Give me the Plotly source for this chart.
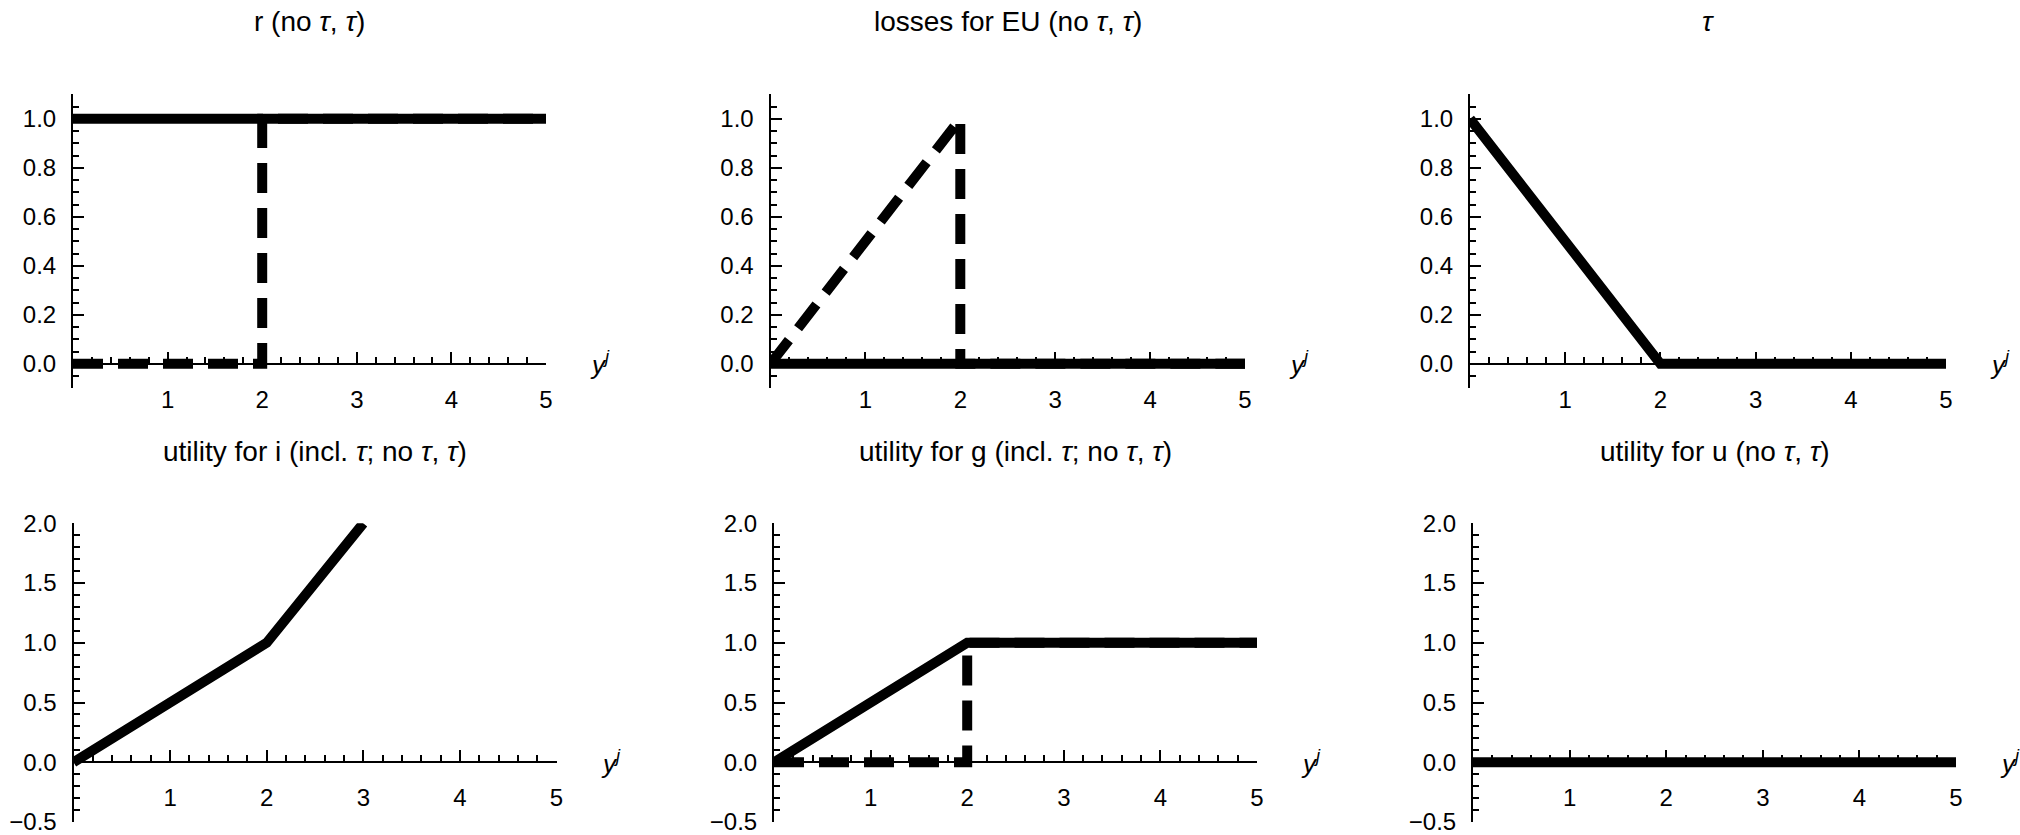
import plotly.graph_objects as go

# ---------------- data ----------------
titles = [
    "r (no <i>τ</i>, <i>τ</i>)",
    "losses for EU (no <i>τ</i>, <i>τ</i>)",
    "<i>τ</i>",
    "utility for i (incl. <i>τ</i>; no <i>τ</i>, <i>τ</i>)",
    "utility for g (incl. <i>τ</i>; no <i>τ</i>, <i>τ</i>)",
    "utility for u (no <i>τ</i>, <i>τ</i>)",
]

# panel 1: r
r_solid_x = [0, 5]
r_solid_y = [1, 1]
r_dash_x = [0, 2, 2, 5]
r_dash_y = [0, 0, 1, 1]

# panel 2: losses for EU
loss_solid_x = [0, 5]
loss_solid_y = [0, 0]
loss_dash_x = [0, 2, 2, 5]
loss_dash_y = [0, 1, 0, 0]

# panel 3: tau
tau_x = [0, 2, 5]
tau_y = [1, 0, 0]

# panel 4: utility for i
ui_x = [0, 2, 3]
ui_y = [0, 1, 2]

# panel 5: utility for g
ug_solid_x = [0, 2, 5]
ug_solid_y = [0, 1, 1]
ug_dash_x = [0, 2, 2, 5]
ug_dash_y = [0, 0, 1, 1]

# panel 6: utility for u
uu_x = [0, 5]
uu_y = [0, 0]

x_tickvals = [1, 2, 3, 4, 5]
top_y_tickvals = [0.0, 0.2, 0.4, 0.6, 0.8, 1.0]
bot_y_tickvals = [-0.5, 0.0, 0.5, 1.0, 1.5, 2.0]

# ---------------- layout geometry ----------------
W, H = 2020, 835
x_doms_top = [(73, 546), (770.5, 1245), (1470, 1946)]
x_doms_bot = [(73.5, 556.5), (774, 1257), (1473, 1956)]
y_dom_top = (94.3, 388.3)
y_dom_bot = (523.3, 822.0)
top_range = [-0.1, 1.10001]
bot_range = [-0.50001, 2.0]

FONT = "Liberation Sans, Arial, sans-serif"
LW = 10
DASH = "30px,15px"

fig = go.Figure()

panels = [
    [(r_solid_x, r_solid_y, "solid"), (r_dash_x, r_dash_y, DASH)],
    [(loss_solid_x, loss_solid_y, "solid"), (loss_dash_x, loss_dash_y, DASH)],
    [(tau_x, tau_y, "solid")],
    [(ui_x, ui_y, "solid")],
    [(ug_solid_x, ug_solid_y, "solid"), (ug_dash_x, ug_dash_y, DASH)],
    [(uu_x, uu_y, "solid")],
]

annotations = []
for i in range(6):
    row = i // 3
    col = i % 3
    xd = (x_doms_top if row == 0 else x_doms_bot)[col]
    yd = y_dom_top if row == 0 else y_dom_bot
    yr = top_range if row == 0 else bot_range
    xdom = [xd[0] / W, xd[1] / W]
    ydom = [1 - yd[1] / H, 1 - yd[0] / H]
    zero_pos = ydom[0] + (0 - yr[0]) / (yr[1] - yr[0]) * (ydom[1] - ydom[0])
    sfx = "" if i == 0 else str(i + 1)
    xname, yname = "x" + sfx, "y" + sfx

    for xs, ys, dash in panels[i]:
        fig.add_trace(go.Scatter(
            x=xs, y=ys, mode="lines",
            line=dict(color="black", width=LW, dash=dash),
            xaxis=xname, yaxis=yname, showlegend=False, hoverinfo="skip",
        ))

    fig.layout["xaxis" + sfx] = dict(
        domain=xdom, range=[0, 5], anchor="free", position=zero_pos,
        automargin=False,
        showgrid=False, zeroline=False, showline=True, linecolor="black", linewidth=2,
        tickmode="array", tickvals=x_tickvals, ticktext=[str(v) for v in x_tickvals],
        ticks="inside", ticklen=11, tickwidth=2, tickcolor="black",
        minor=dict(dtick=0.2, tick0=0, ticks="inside", ticklen=6, tickwidth=2, tickcolor="black", showgrid=False),
        tickfont=dict(family=FONT, size=24, color="black"),
        ticklabelstandoff=14, ticklabeloverflow="allow",
        fixedrange=True,
    )
    if row == 0:
        ymaj = top_y_tickvals
        ymin_dt = 0.05
    else:
        ymaj = bot_y_tickvals
        ymin_dt = 0.1
    fig.layout["yaxis" + sfx] = dict(
        domain=ydom, range=yr, anchor=xname,
        automargin=False,
        showgrid=False, zeroline=False, showline=True, linecolor="black", linewidth=2,
        tickmode="array", tickvals=ymaj, ticktext=[f"{v:.1f}".replace("-", "\u2212") for v in ymaj],
        ticks="inside", ticklen=11, tickwidth=2, tickcolor="black",
        minor=dict(dtick=ymin_dt, tick0=0, ticks="inside", ticklen=6, tickwidth=2, tickcolor="black", showgrid=False),
        tickfont=dict(family=FONT, size=24, color="black"),
        ticklabelstandoff=10, ticklabeloverflow="allow",
        fixedrange=True,
    )

    # panel title
    title_y = 1 - (21 if row == 0 else 451.5) / H
    annotations.append(dict(
        text=titles[i], xref="paper", yref="paper",
        x=(xdom[0] + xdom[1]) / 2, y=title_y, xanchor="center", yanchor="middle",
        showarrow=False, font=dict(family=FONT, size=28, color="black"),
    ))
    # axis label y^j
    annotations.append(dict(
        text="<i>y</i><sup><i>j</i></sup>", xref="paper", yref="paper",
        x=xdom[1] + 54 / W, y=zero_pos, xanchor="center", yanchor="middle",
        showarrow=False, font=dict(family=FONT, size=26, color="black"),
    ))

fig.update_layout(
    template="none",
    width=W, height=H, margin=dict(l=0, r=0, t=0, b=0, autoexpand=False),
    paper_bgcolor="white", plot_bgcolor="white",
    annotations=annotations, showlegend=False,
)

fig.write_html("out.html", config={"displayModeBar": False})
